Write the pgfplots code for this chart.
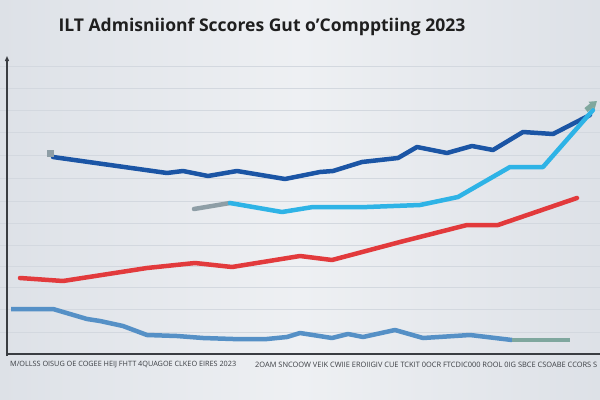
\documentclass[border=0pt]{standalone}
\usepackage{pgfplots}
\pgfplotsset{compat=1.18}
\usepackage{fontspec}
\setmainfont{Open Sans}
\usetikzlibrary{arrows.meta}
\definecolor{navy}{HTML}{1B55A5}
\definecolor{cyanl}{HTML}{2EB3E6}
\definecolor{redl}{HTML}{E23A3C}
\definecolor{steel}{HTML}{5590C6}
\definecolor{grayst}{HTML}{8E9EA6}
\definecolor{tealg}{HTML}{7FA79E}
\definecolor{bgA}{HTML}{DDE1E7}
\definecolor{bgB}{HTML}{EEF0F3}
\definecolor{gridc}{HTML}{D3D8DF}
\definecolor{axc}{HTML}{3A3D42}
\begin{document}
\begin{tikzpicture}
\shade[left color=bgA, right color=bgA, middle color=bgB] (0,0) rectangle (600bp,400bp);
\begin{axis}[
  at={(0,0)}, anchor=south west,
  scale only axis, width=600bp, height=400bp,
  xmin=0, xmax=600, ymin=0, ymax=400, y dir=reverse,
  axis line style={draw=none},
  xtick=\empty,
  ytick={66,88,110,132,155,178,201,223,245,266,287,309,332},
  yticklabels={},
  major tick length=0pt,
  ymajorgrids,
  grid style={color=gridc, line width=0.9bp},
  clip=false,
]
% axes
\draw[axc, line width=1.1bp] (axis cs:7,354) -- (axis cs:600,354);
\draw[axc, line width=1.1bp, -{Triangle[length=5bp,width=4bp]}] (axis cs:7,356) -- (axis cs:7,56);
% series
\addplot[navy, line width=4.5bp, line join=round, line cap=round] coordinates {
(53,157)(167,173)(183,171)(208,176)(237,171)(285,179)(320,172)(333,171)(362,162)(398,158)(417,147)(447,153)(472,146)(493,150)(523,132)(553,134)(590,115)};
\addplot[only marks, mark=square*, mark size=2.8bp, grayst] coordinates {(50,153)};
\addplot[grayst, line width=4.5bp, line cap=round] coordinates {(194,209)(230,203)};
\addplot[cyanl, line width=4.5bp, line join=round, line cap=round] coordinates {
(230,203)(282,212)(313,207)(367,207)(420,205)(458,197)(510,167)(543,167)(593,110)};
\addplot[tealg, line width=5bp, -{Triangle[length=7bp,width=9bp]}] coordinates {(586,110)(597,101)};
\addplot[redl, line width=4.5bp, line join=round, line cap=round] coordinates {
(20,278)(63,281)(147,268)(195,263)(232,267)(300,256)(332,260)(400,242)(467,225)(498,225)(577,198)};
\addplot[steel, line width=4.5bp, line join=round] coordinates {
(11,309)(53,309)(87,319)(100,321)(123,326)(147,335)(177,336)(203,338)(233,339)(267,339)(287,337)(300,333)(332,338)(348,334)(363,337)(395,330)(423,338)(470,335)(512,340)};
\addplot[tealg, line width=4.5bp] coordinates {(512,340)(570,340)};
% texts
\node[text=black!88] at (axis cs:262,27) {\fontsize{17.6}{20}\selectfont\bfseries ILT Admisniionf Sccores Gut o'Compptiing 2023};
\node[anchor=west, text=axc, inner sep=0pt] at (axis cs:10,365) {\resizebox{226bp}{!}{M/OLLSS OISUG OE COGEE HEIJ FHTT 4QUAGOE CLKEO EIRES 2023}};
\node[anchor=west, text=axc, inner sep=0pt] at (axis cs:255,365) {\resizebox{342bp}{!}{2OAM SNCOOW VEIK CWIIE EROIIGIV CUE TCKIT 0OCR FTCDIC000 ROOL 0IG SBCE CSOABE CCORS S}};
\end{axis}
\pgfresetboundingbox
\useasboundingbox (0,0) rectangle (600bp,400bp);
\end{tikzpicture}
\end{document}
